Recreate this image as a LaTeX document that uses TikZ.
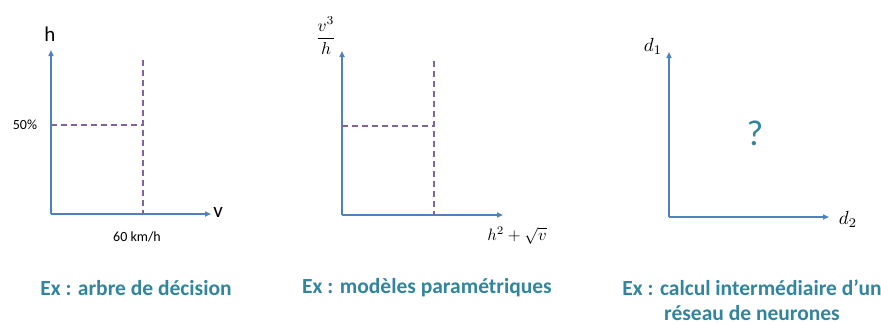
\documentclass[tikz,border=0pt]{standalone}
\usepackage{amsmath}
\usepackage{fontspec}
\setmainfont{Carlito}
\usetikzlibrary{arrows.meta}
\definecolor{axisblue}{HTML}{4F81BD}
\definecolor{dashpurple}{HTML}{8064A2}
\definecolor{capteal}{HTML}{31859C}
\tikzset{
  axis/.style={draw=axisblue, line width=1.6pt, -{Triangle[length=6pt,width=5pt]}},
  guide/.style={draw=dashpurple, line width=1.3pt, dash pattern=on 6pt off 4pt},
  caption/.style={text=capteal, font=\fontsize{21.5}{25}\selectfont\bfseries, align=center},
  lab/.style={font=\fontsize{14}{16}\selectfont},
  biglab/.style={font=\fontsize{21}{23}\selectfont},
  mlab/.style={scale=1.65, transform shape, inner sep=1pt}
}
\begin{document}
\begin{tikzpicture}[x=1pt,y=-1pt]
\useasboundingbox (0,0) rectangle (881,324);
% panel 1
\coordinate (o1) at (51,214);
\coordinate (y1) at (51,50);
\coordinate (x1) at (211,214);
\coordinate (d1a) at (51,125);
\coordinate (d1b) at (143,125);
\coordinate (d1c) at (143,60);
\coordinate (d1d) at (143,214);
\draw[axis] (o1) -- (y1);
\draw[axis] (o1) -- (x1);
\draw[guide] (d1a) -- (d1b);
\draw[guide] (d1c) -- (d1d);
\node[biglab] (h1) at (50,34) {h};
\node[biglab] (v1) at (218,212) {v};
\node[lab] (p50) at (25,125) {50\%};
\node[lab] (k60) at (137,237) {60 km/h};
\node[caption] (c1) at (136,288) {Ex : arbre de décision};
% panel 2
\coordinate (o2) at (342,215);
\coordinate (y2) at (342,51);
\coordinate (x2) at (503,215);
\coordinate (d2a) at (342,126);
\coordinate (d2b) at (434,126);
\coordinate (d2c) at (434,61);
\coordinate (d2d) at (434,215);
\draw[axis] (o2) -- (y2);
\draw[axis] (o2) -- (x2);
\draw[guide] (d2a) -- (d2b);
\draw[guide] (d2c) -- (d2d);
\node[mlab, scale=1.05] (f2) at (326,36) {$\dfrac{v^3}{h}$};
\node[mlab] (g2) at (517,236) {$h^2+\sqrt{v}$};
\node[caption] (c2) at (427,288) {Ex : modèles paramétriques};
% panel 3
\coordinate (o3) at (669,217);
\coordinate (y3) at (669,52);
\coordinate (x3) at (829,217);
\draw[axis] (o3) -- (y3);
\draw[axis] (o3) -- (x3);
\node[mlab, scale=1.15] (dd1) at (653,46) {$d_1$};
\node[mlab, scale=1.15] (dd2) at (848,219) {$d_2$};
\node[text=capteal, font=\fontsize{36}{38}\selectfont] (q) at (755,133) {?};
\node[caption] (c3) at (752,300) {Ex : calcul intermédiaire d’un\\réseau de neurones};
\end{tikzpicture}
\end{document}
